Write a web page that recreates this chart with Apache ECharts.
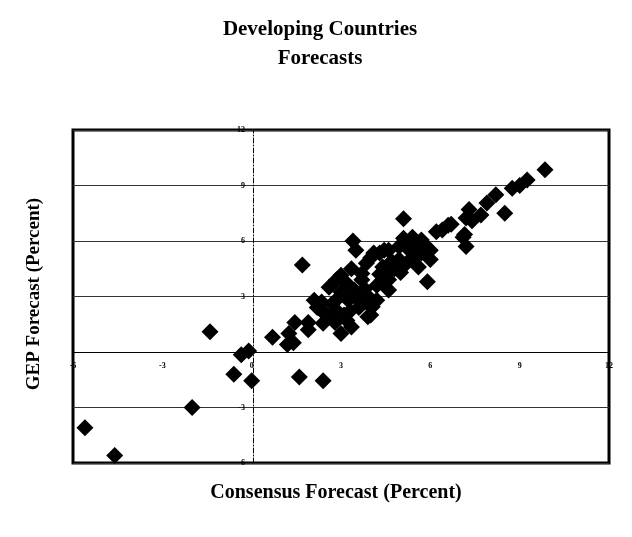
<!DOCTYPE html>
<html>
<head>
<meta charset="utf-8">
<script src="https://cdn.jsdelivr.net/npm/echarts@6/dist/echarts.min.js"></script>
<style>
  html, body { margin: 0; padding: 0; background: #fff; }
  #chart { width: 632px; height: 537px; }
</style>
</head>
<body>
<div id="chart"></div>
<script>
// axis ticks
var axisTicks = [-6, -3, 0, 3, 6, 9, 12]

// consensus forecast (x) and GEP forecast (y)
var consensus = [
  -5.6, -4.6, -2.0, -1.4, -0.35, -0.1, -0.6, 0.0, 1.6, 2.4,
  0.7, 1.2, 1.25, 1.45, 1.9, 2.4, 1.7, 1.4,
  3.0, 3.9, 3.35, 2.35, 2.85, 3.35, 4.0, 4.3, 4.6, 5.1,
  5.4, 5.7, 6.0, 5.7, 4.6, 4.2, 4.05, 3.7, 3.45, 3.0,
  2.6, 2.35, 2.85, 2.65, 3.85, 4.4, 4.95, 4.95, 5.3, 3.7,
  4.4, 4.6, 3.25, 3.6, 2.1, 3.0, 3.4, 3.5, 5.1, 5.9,
  6.2, 6.7, 7.1, 7.2, 5.55, 6.0, 5.2, 4.1, 4.45, 3.9,
  4.0, 3.88,
  9.85, 9.25, 9.0, 8.75, 8.2, 8.5, 7.9, 7.7, 7.3, 7.2,
  7.4, 7.15, 6.6, 6.4,
  2.5, 2.7, 3.1, 3.3, 3.5, 3.8, 3.9, 4.2, 4.5, 4.8,
  5.0, 5.4, 5.6, 3.2, 2.9, 2.2, 2.8, 3.2, 3.6, 4.3,
  4.7, 5.2, 5.8, 1.9
]
var gep = [
  -4.1, -5.6, -3.0, 1.1, -0.15, 0.05, -1.2, -1.55, -1.35, -1.55,
  0.8, 0.4, 1.0, 1.6, 1.6, 1.55, 4.7, 0.5,
  1.0, 1.9, 1.35, 2.7, 3.9, 4.5, 5.1, 5.35, 5.5, 6.15,
  6.2, 6.05, 5.0, 5.35, 3.9, 2.8, 2.45, 3.9, 3.35, 3.25,
  3.5, 2.25, 2.25, 1.9, 4.8, 4.6, 5.0, 5.7, 5.5, 4.25,
  3.9, 3.35, 2.8, 2.8, 2.8, 4.15, 6.0, 5.5, 7.2, 3.8,
  6.5, 6.9, 6.2, 5.7, 5.7, 5.5, 4.8, 5.35, 5.5, 3.0,
  2.0, 2.65,
  9.85, 9.3, 9.0, 8.85, 8.5, 7.5, 8.05, 7.4, 7.7, 7.25,
  7.1, 6.35, 6.85, 6.6,
  2.0, 2.6, 2.0, 2.2, 3.0, 3.4, 3.0, 3.6, 4.2, 4.5,
  4.3, 5.0, 4.6, 3.7, 2.9, 2.4, 1.6, 1.7, 2.4, 4.2,
  4.9, 5.9, 5.8, 1.2
]

var points = consensus.map(function(x, i) { return [x, gep[i]] })

var chart = echarts.init(document.getElementById('chart'))
var serif = '"Liberation Serif", "DejaVu Serif", serif'
var option = {
  backgroundColor: '#fff',
  animation: false,
  graphic: [
    {
      type: 'text',
      x: 320,
      y: 44,
      style: {
        text: 'Developing Countries\nForecasts',
        font: 'bold 21px ' + serif,
        lineHeight: 29,
        fill: '#000',
        align: 'center',
        verticalAlign: 'middle'
      }
    },
    {
      type: 'text',
      x: 336,
      y: 493,
      style: {
        text: 'Consensus Forecast (Percent)',
        font: 'bold 20px ' + serif,
        fill: '#000',
        align: 'center',
        verticalAlign: 'middle'
      }
    },
    {
      type: 'text',
      x: 34,
      y: 294,
      rotation: Math.PI / 2,
      style: {
        text: 'GEP Forecast (Percent)',
        font: 'bold 19px ' + serif,
        fill: '#000',
        align: 'center',
        verticalAlign: 'middle'
      }
    }
  ],
  grid: {
    left: 73,
    right: 23,
    top: 130,
    bottom: 74,
    show: true,
    borderColor: '#000',
    borderWidth: 3,
    backgroundColor: '#fff'
  },
  xAxis: {
    type: 'value',
    min: axisTicks[0],
    max: axisTicks[axisTicks.length - 1],
    interval: 3,
    // sit on the y = 0 line
    offset: -111,
    axisLine: { onZero: false, lineStyle: { color: '#000', width: 1 } },
    axisTick: { show: false },
    splitLine: { show: false },
    axisLabel: {
      margin: 10,
      fontFamily: serif,
      fontWeight: 'bold',
      fontSize: 8,
      color: '#000'
    }
  },
  yAxis: {
    type: 'value',
    min: axisTicks[0],
    max: axisTicks[axisTicks.length - 1],
    interval: 3,
    // sit on the x = 0 line
    offset: -180,
    axisLine: { onZero: false, lineStyle: { color: '#000', width: 1, type: [5, 2, 1, 2] } },
    axisTick: { show: false },
    splitLine: { show: true, lineStyle: { color: '#333', width: 1 } },
    axisLabel: {
      margin: 8,
      fontFamily: serif,
      fontWeight: 'bold',
      fontSize: 8,
      color: '#000',
      formatter: function(v) { return v === 0 ? '' : v }
    }
  },
  series: [
    {
      type: 'scatter',
      symbol: 'diamond',
      symbolSize: 17,
      data: points,
      itemStyle: { color: '#000', opacity: 1 }
    }
  ]
}
chart.setOption(option)
</script>
</body>
</html>
